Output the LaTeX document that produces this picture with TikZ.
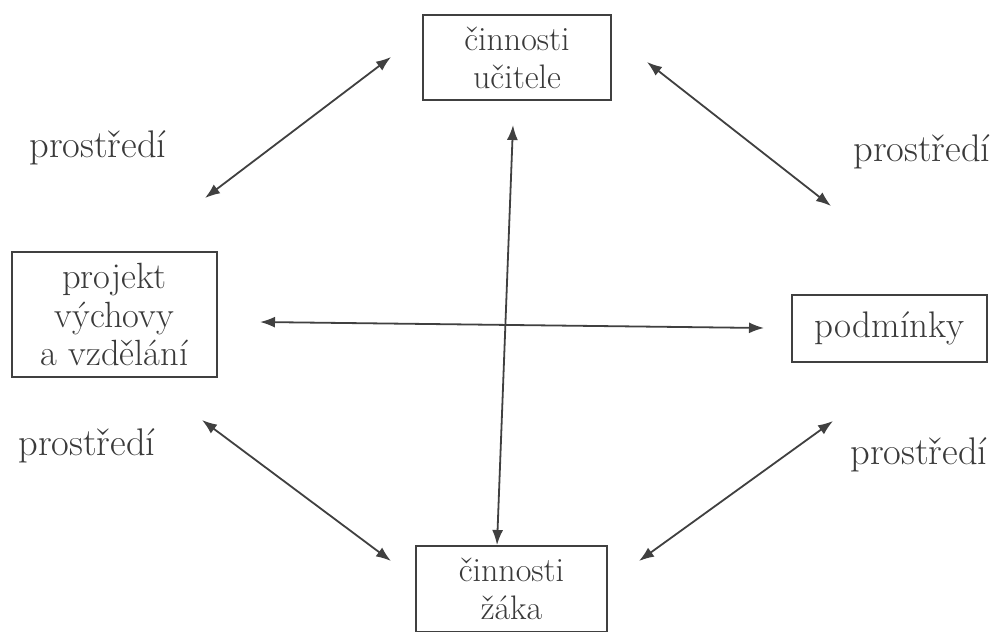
\documentclass[tikz,border=0pt]{standalone}
\usetikzlibrary{arrows.meta}
\definecolor{txt}{HTML}{3A3A3A}
\definecolor{ln}{HTML}{404040}
\begin{document}
\begin{tikzpicture}[x=1pt,y=-1pt,
  box/.style={draw=ln,line width=1.8pt,inner sep=0pt,align=center,text=txt,
    font=\fontsize{34}{38}\selectfont},
  lbl/.style={text=txt,font=\fontsize{38.5}{40}\selectfont,inner sep=0pt},
  dbl/.style={{Latex[length=15pt,width=11pt]}-{Latex[length=15pt,width=11pt]},draw=ln,line width=1.8pt}]
\useasboundingbox[fill=white] (0,0) rectangle (999,632);
\node[box,minimum width=188pt,minimum height=85pt] (t) at (517,57.5) {činnosti\\učitele};
\node[box,minimum width=205pt,minimum height=125pt,font=\fontsize{36.5}{38.5}\selectfont] (l) at (114.5,314.5) {projekt\\výchovy\\a vzdělání};
\node[box,minimum width=195pt,minimum height=67pt,font=\fontsize{37}{40}\selectfont] (r) at (889.5,328.5) {podmínky};
\node[box,minimum width=191pt,minimum height=86pt] (b) at (511.5,589) {činnosti\\žáka};
\node[lbl] (p1) at (98,148) {prostředí};
\node[lbl] (p2) at (922,152) {prostředí};
\node[lbl] (p3) at (87,446) {prostředí};
\node[lbl] (p4) at (919,455) {prostředí};
\coordinate (vt) at (513,125);
\coordinate (vb) at (497,545);
\coordinate (hl) at (260,322);
\coordinate (hr) at (764,328);
\coordinate (a1) at (205,198);
\coordinate (a2) at (391,57);
\coordinate (b1) at (647,62);
\coordinate (b2) at (831,206);
\coordinate (c1) at (202,420);
\coordinate (c2) at (391,561);
\coordinate (d1) at (833,421);
\coordinate (d2) at (639,561);
\draw[dbl] (vt) -- (vb);
\draw[dbl] (hl) -- (hr);
\draw[dbl] (a1) -- (a2);
\draw[dbl] (b1) -- (b2);
\draw[dbl] (c1) -- (c2);
\draw[dbl] (d1) -- (d2);
\end{tikzpicture}
\end{document}
